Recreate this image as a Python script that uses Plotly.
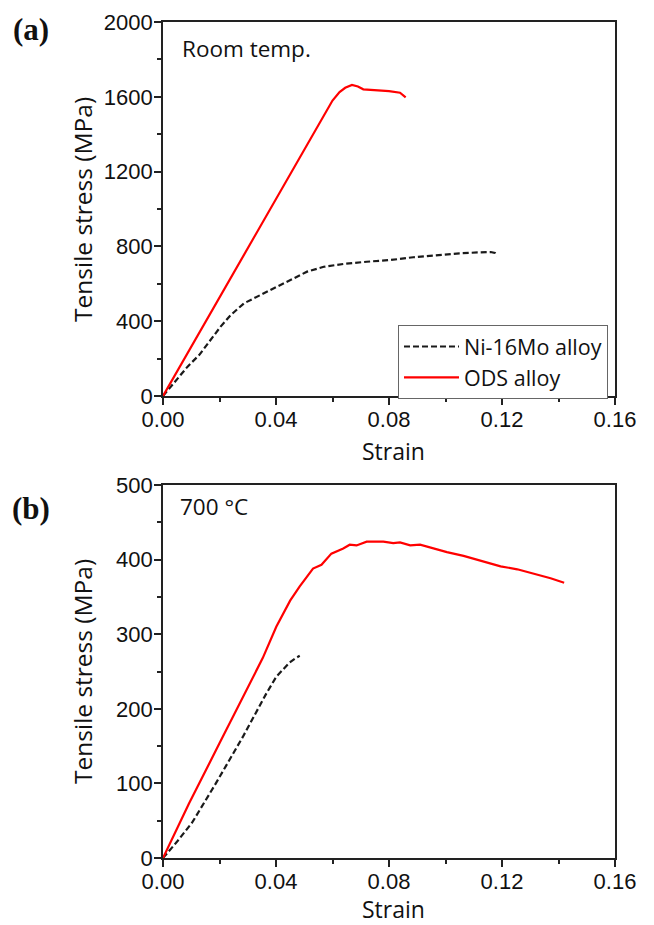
import plotly.graph_objects as go
from plotly.subplots import make_subplots

# ---- Data (a) Room temperature ----
ni_rt_strain = [0.0, 0.0046, 0.0087, 0.0128, 0.0169, 0.0204, 0.0240, 0.0287, 0.0345, 0.0404,
                0.0451, 0.0510, 0.0569, 0.0639, 0.0721, 0.0804, 0.0886, 0.0968, 0.1050, 0.1120,
                0.1160, 0.1175, 0.1182]
ni_rt_stress = [0, 86, 157, 219, 299, 371, 433, 496, 540, 585,
                620, 665, 691, 706, 718, 727, 742, 754, 763, 768,
                770, 765, 748]

ods_rt_strain = [0.0, 0.0200, 0.0400, 0.0486, 0.0600, 0.0625, 0.0645, 0.0669, 0.0690, 0.0709, 0.0760,
                 0.0800, 0.0839, 0.0849, 0.0859]
ods_rt_stress = [0, 526, 1050, 1278, 1580, 1625, 1648, 1663, 1655, 1640, 1635,
                 1630, 1622, 1610, 1597]

# ---- Data (b) 700 C ----
ni_ht_strain = [0.0, 0.0050, 0.0104, 0.0187, 0.0282, 0.0365, 0.0401, 0.0448, 0.0470, 0.0484]
ni_ht_stress = [0, 22, 48, 100, 162, 220, 243, 262, 268, 271]

ods_ht_strain = [0.0, 0.0092, 0.0199, 0.0294, 0.0353, 0.0401, 0.0450, 0.0484, 0.0531, 0.0561,
                 0.0596, 0.0638, 0.0661, 0.0685, 0.0721, 0.0780, 0.0815, 0.0839, 0.0875, 0.0910,
                 0.0946, 0.1005, 0.1064, 0.1124, 0.1195, 0.1254, 0.1313, 0.1372, 0.1420]
ods_ht_stress = [0, 73, 153, 225, 268, 310, 345, 364, 388, 393,
                 408, 415, 420, 419, 424, 424, 422, 423, 419, 420,
                 416, 410, 405, 399, 391, 387, 381, 375, 369]

series_names = ["Ni-16Mo alloy", "ODS alloy"]
x_ticks = [0.0, 0.04, 0.08, 0.12, 0.16]
x_tick_labels = ["0.00", "0.04", "0.08", "0.12", "0.16"]
y_ticks_a = [0, 400, 800, 1200, 1600, 2000]
y_ticks_b = [0, 100, 200, 300, 400, 500]

# page body has an 8px margin: figure is drawn from (8, 8)
OFF = 8
W, H = 654 - OFF, 925 - OFF
def px(x): return (x - OFF) / W
def py(y): return 1 - (y - OFF) / H

fig = make_subplots(rows=2, cols=1)

black_line = dict(color="#1a1a1a", width=2.2, dash="6px,3px")
red_line = dict(color="#ff0000", width=2.2)

fig.add_trace(go.Scatter(x=ni_rt_strain, y=ni_rt_stress, mode="lines", name=series_names[0],
                         line=black_line), row=1, col=1)
fig.add_trace(go.Scatter(x=ods_rt_strain, y=ods_rt_stress, mode="lines", name=series_names[1],
                         line=red_line), row=1, col=1)
fig.add_trace(go.Scatter(x=ni_ht_strain, y=ni_ht_stress, mode="lines", name=series_names[0],
                         line=black_line, showlegend=False), row=2, col=1)
fig.add_trace(go.Scatter(x=ods_ht_strain, y=ods_ht_stress, mode="lines", name=series_names[1],
                         line=red_line, showlegend=False), row=2, col=1)

tickfont = dict(family="Liberation Sans, Arial, sans-serif", size=22, color="#111")
common_x = dict(range=[0, 0.16], tickvals=x_ticks, ticktext=x_tick_labels, ticks="outside",
                ticklen=7, tickwidth=1.5, tickcolor="#222", showline=True, linecolor="#222",
                linewidth=1.6, mirror=True, showgrid=False, zeroline=False, tickfont=tickfont,
                automargin=False, ticklabelstandoff=-4,
                minor=dict(dtick=0.02, tick0=0, ticks="outside", ticklen=4, tickwidth=1.5,
                           tickcolor="#222", showgrid=False))
common_y = dict(ticks="outside", ticklen=7, tickwidth=1.5, tickcolor="#222", showline=True,
                linecolor="#222", linewidth=1.6, mirror=True, showgrid=False, zeroline=False,
                tickfont=tickfont, automargin=False, ticklabelstandoff=-3)

fig.update_xaxes(domain=[px(163), px(615)], **common_x)
fig.update_yaxes(range=[0, 2000], tickvals=y_ticks_a, domain=[py(396), py(22)],
                 minor=dict(dtick=200, tick0=0, ticks="outside", ticklen=4, tickwidth=1.5,
                            tickcolor="#222", showgrid=False),
                 **common_y, row=1, col=1)
fig.update_yaxes(range=[0, 500], tickvals=y_ticks_b, domain=[py(858), py(485)],
                 minor=dict(dtick=50, tick0=0, ticks="outside", ticklen=4, tickwidth=1.5,
                            tickcolor="#222", showgrid=False),
                 **common_y, row=2, col=1)

title_font = dict(family="Open Sans, Noto Sans, sans-serif", size=24.5, color="#111")
xtitle_font = dict(family="Open Sans, Noto Sans, sans-serif", size=23, color="#111")
ann = []
# axis titles
ann.append(dict(text="Tensile stress (MPa)", x=px(82), y=py(210), textangle=-90, font=title_font))
ann.append(dict(text="Tensile stress (MPa)", x=px(82), y=py(672), textangle=-90, font=title_font))
ann.append(dict(text="Strain", x=px(393), y=py(451), font=xtitle_font))
ann.append(dict(text="Strain", x=px(393), y=py(909), font=xtitle_font))
# panel labels
panel_font = dict(family="Liberation Serif, Times New Roman, serif", size=31, color="#111")
ann.append(dict(text="<b>(a)</b>", x=px(31), y=py(29), font=panel_font))
ann.append(dict(text="<b>(b)</b>", x=px(31), y=py(509), font=panel_font))
# inner labels
inner_font = dict(family="Open Sans, Noto Sans, sans-serif", size=22.5, color="#111")
ann.append(dict(text="Room temp.", x=px(180), y=py(49), xanchor="left", font=inner_font))
ann.append(dict(text="700 °C", x=px(178), y=py(506), xanchor="left", font=inner_font))
for a in ann:
    a.setdefault("xanchor", "center")
    a.update(xref="paper", yref="paper", yanchor="middle", showarrow=False)
fig.update_layout(annotations=ann)

fig.update_layout(
    width=W, height=H,
    margin=dict(l=0, r=0, t=0, b=0, autoexpand=False),
    plot_bgcolor="white", paper_bgcolor="white",
    legend=dict(x=px(398), y=py(325), xanchor="left", yanchor="top",
                bgcolor="white", bordercolor="#666", borderwidth=1,
                font=dict(family="Open Sans, Noto Sans, sans-serif", size=21.5, color="#111"),
                itemwidth=55, tracegroupgap=0),
    showlegend=True,
)

fig.write_html("out.html")
